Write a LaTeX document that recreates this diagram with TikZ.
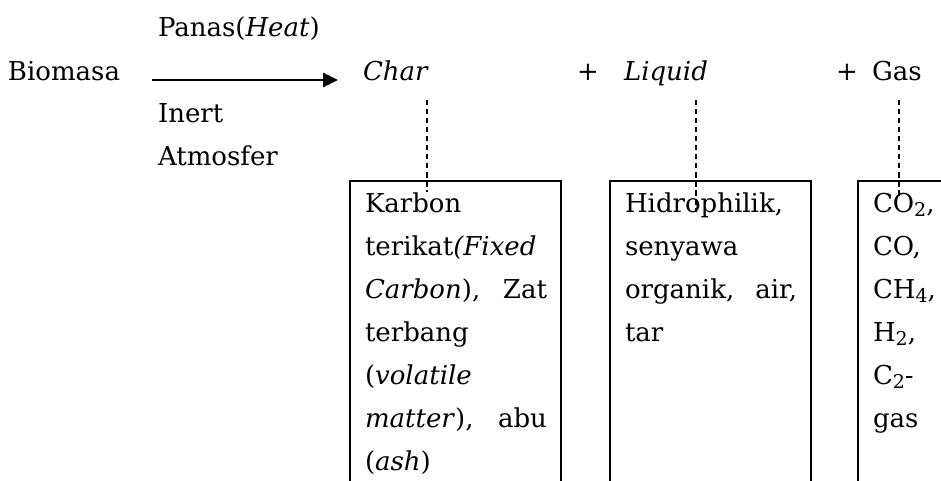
\documentclass[tikz,border=0pt]{standalone}
\usepackage{fontspec}
\setmainfont{DejaVu Serif}
\usetikzlibrary{arrows.meta}
\newcommand\lowsub[1]{\raisebox{-0.18em}{\fontsize{19}{19}\selectfont #1}}
\begin{document}
\begin{tikzpicture}[x=1pt,y=-1pt,
  txt/.style={anchor=base west,inner sep=0pt,outer sep=0pt,font=\fontsize{26}{43}\selectfont},
  dashline/.style={line width=1.6pt,dash pattern=on 5.5pt off 3.5pt},
  boxline/.style={line width=2.3pt},
  mainarrow/.style={line width=2.6pt,-{Triangle[length=15pt,width=14pt]}}]
\useasboundingbox (0,0) rectangle (941,481);
% top row
\node[txt] (panas) at (158,37) {Panas(\textit{Heat})};
\node[txt] (bio) at (8,81) {Biomasa};
\node[txt] (char) at (363,81) {\textit{Char}};
\node[txt] (plus1) at (577,81) {+};
\node[txt] (liq) at (624,81) {\textit{Liquid}};
\node[txt] (plus2) at (836,81) {+};
\node[txt] (gas) at (872,81) {Gas};
\node[txt] (inert) at (158,123) {Inert};
\node[txt] (atm) at (158,166) {Atmosfer};
\coordinate (a0) at (152,80);
\coordinate (a1) at (338,80);
\draw[mainarrow] (a0) -- (a1);
% boxes (open at bottom)
\draw[boxline] (350,481) -- (350,181) -- (561,181) -- (561,481);
\draw[boxline] (610,481) -- (610,181) -- (811,181) -- (811,481);
\draw[boxline] (858,481) -- (858,181) -- (941,181);
% box texts
\node[txt] (t1) at (365,212) {\vtop{\hsize=182pt
  \hbox{Karbon}
  \hbox{terikat\textit{(Fixed}}
  \hbox to 182pt{\textit{Carbon}),\hfill Zat}
  \hbox{terbang}
  \hbox{(\textit{volatile}}
  \hbox to 182pt{\textit{matter}),\hfill abu}
  \hbox{(\textit{ash})}}};
\node[txt] (t2) at (625,212) {\vtop{\hsize=172pt
  \hbox{Hidrophilik,}
  \hbox{senyawa}
  \hbox to 172pt{organik,\hfill air,}
  \hbox{tar}}};
\node[txt] (t3) at (873,212) {\vtop{\hsize=60pt
  \hbox{CO\lowsub{2},}
  \hbox{CO,}
  \hbox{CH\lowsub{4},}
  \hbox{H\lowsub{2},}
  \hbox{C\lowsub{2}-}
  \hbox{gas}}};
% dashed connectors
\coordinate (d1a) at (427,100); \coordinate (d1b) at (427,192);
\coordinate (d2a) at (696,100); \coordinate (d2b) at (696,212);
\coordinate (d3a) at (899,100); \coordinate (d3b) at (899,197);
\draw[dashline] (d1a) -- (d1b);
\draw[dashline] (d2a) -- (d2b);
\draw[dashline] (d3a) -- (d3b);
\end{tikzpicture}
\end{document}
